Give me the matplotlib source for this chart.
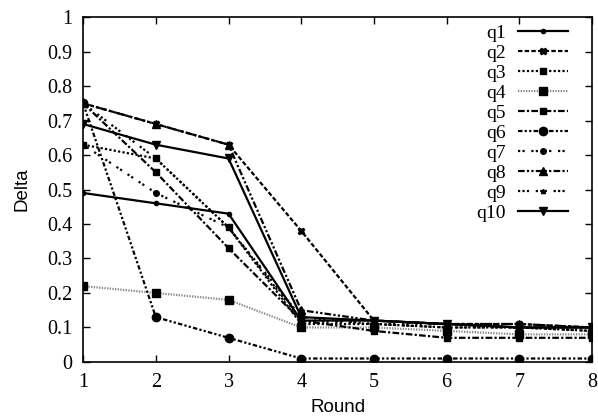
import matplotlib
matplotlib.use('Agg')
import matplotlib.pyplot as plt
from matplotlib.ticker import FuncFormatter

# Data
rounds = [1, 2, 3, 4, 5, 6, 7, 8]
q1 = [0.49, 0.46, 0.43, 0.12, 0.12, 0.11, 0.10, 0.10]
q2 = [0.75, 0.69, 0.63, 0.38, 0.12, 0.11, 0.11, 0.10]
q3 = [0.63, 0.59, 0.39, 0.11, 0.11, 0.10, 0.10, 0.09]
q4 = [0.22, 0.20, 0.18, 0.10, 0.10, 0.09, 0.08, 0.08]
q5 = [0.75, 0.55, 0.33, 0.12, 0.09, 0.07, 0.07, 0.07]
q6 = [0.75, 0.13, 0.07, 0.01, 0.01, 0.01, 0.01, 0.01]
q7 = [0.63, 0.49, 0.39, 0.12, 0.11, 0.11, 0.10, 0.10]
q8 = [0.75, 0.69, 0.63, 0.15, 0.12, 0.11, 0.11, 0.10]
q9 = [0.75, 0.59, 0.39, 0.13, 0.11, 0.10, 0.10, 0.09]
q10 = [0.69, 0.63, 0.59, 0.13, 0.12, 0.11, 0.10, 0.10]

series = [('q1', q1), ('q2', q2), ('q3', q3), ('q4', q4), ('q5', q5),
          ('q6', q6), ('q7', q7), ('q8', q8), ('q9', q9), ('q10', q10)]

# gnuplot-like styles: (linestyle, marker, markersize, color)
styles = [
    ('-', 'o', 3, 'black'),
    ((0, (2, 1)), 'X', 5, 'black'),
    ((0, (1, 1)), 's', 4, 'black'),
    ((0, (0.6, 0.6)), 's', 6, '#888888'),
    ((0, (3, 1, 1, 1)), 's', 4, 'black'),
    ((0, (2, 1, 1, 1, 1, 1)), 'o', 6, 'black'),
    ((0, (1, 1, 1, 3)), 'o', 4, 'black'),
    ((0, (3, 1, 1, 1, 1, 1)), '^', 6, 'black'),
    ((0, (1, 1, 1, 1, 1, 3)), '^', 3, 'black'),
    ('-', 'v', 6, 'black'),
]

fig = plt.figure(figsize=(5.98, 4.17), dpi=100)
ax = fig.add_axes([0.139, 0.132, 0.851, 0.827])

for (name, vals), (ls, mk, ms, col) in zip(series, styles):
    ax.plot(rounds, vals, linestyle=ls, marker=mk, markersize=ms,
            color=col, markerfacecolor='black', markeredgecolor='black',
            linewidth=1.6, label=name)

ax.set_xlim(1, 8)
ax.set_ylim(0, 1)
ax.set_xticks(rounds)
ax.set_yticks([i / 10 for i in range(11)])
ax.yaxis.set_major_formatter(FuncFormatter(lambda v, p: '%g' % round(v, 1)))
ax.tick_params(direction='in', top=True, right=True, length=5, width=1,
               labelsize=14.5, pad=8)
for lab in ax.get_xticklabels() + ax.get_yticklabels():
    lab.set_family('Liberation Serif')
for sp in ax.spines.values():
    sp.set_linewidth(1.2)

ax.set_xlabel('Round', fontsize=13.5, family='Liberation Sans', labelpad=5)
ax.set_ylabel('Delta', fontsize=13.5, family='Liberation Sans', labelpad=12)

leg = ax.legend(loc='upper right', bbox_to_anchor=(0.953, 0.978),
                frameon=False, markerfirst=False,
                prop={'family': 'Liberation Serif', 'size': 14},
                handlelength=2.6, labelspacing=0.12, handletextpad=0.6,
                borderaxespad=0, borderpad=0)
for t in leg.get_texts():
    t.set_ha('right')

fig.savefig('out.png', dpi=100)
